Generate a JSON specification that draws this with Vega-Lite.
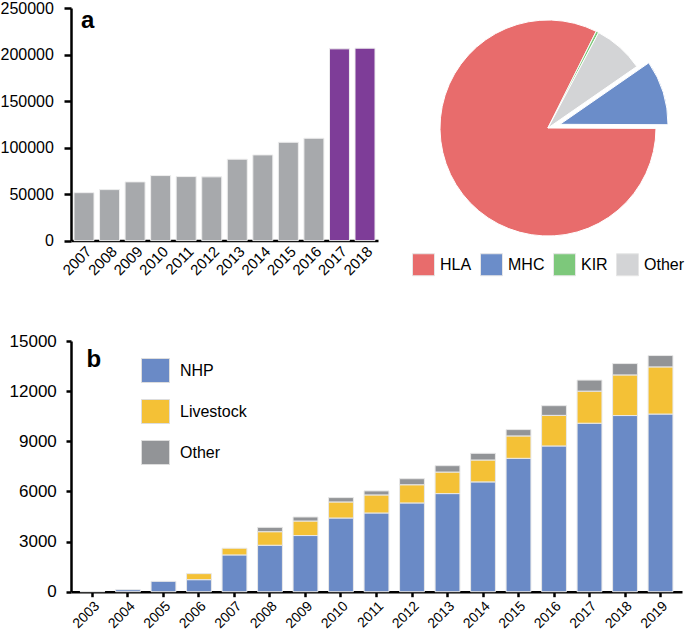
{
  "$schema": "https://vega.github.io/schema/vega-lite/v6.json",
  "padding": {"left": 0, "top": 0, "right": 0, "bottom": 0},
  "config": {
    "font": "Liberation Sans",
    "view": {"stroke": null},
    "axis": {"domainColor": "black", "tickColor": "black", "labelColor": "black", "domainWidth": 2.5, "tickWidth": 2.5, "grid": false, "title": null}
  },
  "resolve": {"scale": {"color": "independent"}, "legend": {"color": "independent"}},
  "align": "none",
  "spacing": 54,
  "vconcat": [
    {
      "spacing": 34,
      "resolve": {"scale": {"color": "independent"}, "legend": {"color": "independent"}},
      "hconcat": [
        {
          "width": 307,
          "height": 232.6,
          "data": {"values": [
            {"year": "2007", "count": 51500},
            {"year": "2008", "count": 54800},
            {"year": "2009", "count": 63100},
            {"year": "2010", "count": 69900},
            {"year": "2011", "count": 68800},
            {"year": "2012", "count": 68500},
            {"year": "2013", "count": 87500},
            {"year": "2014", "count": 92100},
            {"year": "2015", "count": 105700},
            {"year": "2016", "count": 110000},
            {"year": "2017", "count": 206100},
            {"year": "2018", "count": 206800}
          ]},
          "layer": [
            {
              "mark": {"type": "bar", "stroke": "#eeeeee", "strokeWidth": 1},
              "encoding": {
                "x": {"field": "year", "type": "ordinal", "scale": {"paddingInner": 0.217, "paddingOuter": 0.117},
                      "axis": {"title": null, "labelAngle": -45, "ticks": false, "labelFontSize": 15, "labelPadding": 3}},
                "y": {"field": "count", "type": "quantitative", "scale": {"domain": [0, 250000], "nice": false},
                      "axis": {"title": null, "values": [0, 50000, 100000, 150000, 200000, 250000], "format": "d", "labelFontSize": 16, "tickSize": 7, "labelPadding": 10.6}},
                "color": {"condition": {"test": "toNumber(datum.year) >= 2017", "value": "#7E3D98"}, "value": "#A7A9AC"}
              }
            },
            {
              "data": {"values": [{}]},
              "mark": {"type": "text", "text": "a", "fontSize": 24, "fontWeight": "bold", "align": "left", "baseline": "alphabetic", "dx": -3},
              "encoding": {"x": {"datum": "2007"}, "y": {"datum": 228000}}
            }
          ]
        },
        {
          "width": 272,
          "height": 240,
          "data": {"values": [
            {"cat": "HLA", "share": 82.3, "ord": 4},
            {"cat": "MHC", "share": 9.7, "ord": 3},
            {"cat": "KIR", "share": 0.4, "ord": 1},
            {"cat": "Other", "share": 7.6, "ord": 2}
          ]},
          "encoding": {
            "theta": {"field": "share", "type": "quantitative", "stack": true, "scale": {"range": [0.4625, 6.7457]}},
            "order": {"field": "ord", "type": "quantitative"},
            "color": {"field": "cat", "type": "nominal",
                      "scale": {"domain": ["HLA", "MHC", "KIR", "Other"], "range": ["#E86C6C", "#6B8DC9", "#7DC87B", "#D3D4D6"]},
                      "legend": {"title": null, "orient": "bottom", "direction": "horizontal", "offset": 5, "symbolType": "square", "symbolSize": 484, "symbolStrokeColor": "#e6e6e6", "symbolStrokeWidth": 1, "labelFontSize": 16, "labelOffset": 5, "columnPadding": 6, "labelColor": "black"}}
          },
          "layer": [
            {
              "mark": {"type": "arc", "outerRadius": 108, "stroke": "white", "strokeWidth": 1},
              "encoding": {"opacity": {"condition": {"test": "datum.cat === 'MHC'", "value": 0}, "value": 1}}
            },
            {
              "mark": {"type": "arc", "outerRadius": 108, "stroke": "white", "strokeWidth": 1, "xOffset": 12, "yOffset": -3.7},
              "encoding": {"opacity": {"condition": {"test": "datum.cat === 'MHC'", "value": 1}, "value": 0}}
            }
          ]
        }
      ]
    },
    {
      "width": 611,
      "height": 250.7,
      "data": {"values": [
        {"year": "2003", "type": "NHP", "value": 10},
        {"year": "2004", "type": "NHP", "value": 120},
        {"year": "2005", "type": "NHP", "value": 620},
        {"year": "2006", "type": "NHP", "value": 720},
        {"year": "2006", "type": "Livestock", "value": 360},
        {"year": "2007", "type": "NHP", "value": 2200},
        {"year": "2007", "type": "Livestock", "value": 400},
        {"year": "2008", "type": "NHP", "value": 2780},
        {"year": "2008", "type": "Livestock", "value": 810},
        {"year": "2008", "type": "Other", "value": 260},
        {"year": "2009", "type": "NHP", "value": 3360},
        {"year": "2009", "type": "Livestock", "value": 870},
        {"year": "2009", "type": "Other", "value": 240},
        {"year": "2010", "type": "NHP", "value": 4410},
        {"year": "2010", "type": "Livestock", "value": 960},
        {"year": "2010", "type": "Other", "value": 260},
        {"year": "2011", "type": "NHP", "value": 4710},
        {"year": "2011", "type": "Livestock", "value": 1080},
        {"year": "2011", "type": "Other", "value": 240},
        {"year": "2012", "type": "NHP", "value": 5310},
        {"year": "2012", "type": "Livestock", "value": 1090},
        {"year": "2012", "type": "Other", "value": 360},
        {"year": "2013", "type": "NHP", "value": 5870},
        {"year": "2013", "type": "Livestock", "value": 1290},
        {"year": "2013", "type": "Other", "value": 380},
        {"year": "2014", "type": "NHP", "value": 6570},
        {"year": "2014", "type": "Livestock", "value": 1310},
        {"year": "2014", "type": "Other", "value": 400},
        {"year": "2015", "type": "NHP", "value": 7980},
        {"year": "2015", "type": "Livestock", "value": 1340},
        {"year": "2015", "type": "Other", "value": 380},
        {"year": "2016", "type": "NHP", "value": 8720},
        {"year": "2016", "type": "Livestock", "value": 1830},
        {"year": "2016", "type": "Other", "value": 580},
        {"year": "2017", "type": "NHP", "value": 10080},
        {"year": "2017", "type": "Livestock", "value": 1920},
        {"year": "2017", "type": "Other", "value": 660},
        {"year": "2018", "type": "NHP", "value": 10540},
        {"year": "2018", "type": "Livestock", "value": 2430},
        {"year": "2018", "type": "Other", "value": 680},
        {"year": "2019", "type": "NHP", "value": 10630},
        {"year": "2019", "type": "Livestock", "value": 2820},
        {"year": "2019", "type": "Other", "value": 680}
      ]},
      "layer": [
        {
          "transform": [{"calculate": "indexof(['NHP','Livestock','Other'], datum.type)", "as": "stackOrder"}],
          "mark": {"type": "bar", "stroke": "#e8e8e8", "strokeWidth": 1},
          "encoding": {
            "x": {"field": "year", "type": "ordinal", "scale": {"paddingInner": 0.3, "paddingOuter": 0.255},
                  "axis": {"title": null, "labelAngle": -45, "labelFontSize": 14, "tickSize": 5, "labelPadding": 2}},
            "y": {"field": "value", "type": "quantitative", "stack": "zero", "scale": {"domain": [0, 15000], "nice": false},
                  "axis": {"title": null, "values": [0, 3000, 6000, 9000, 12000, 15000], "format": "d", "labelFontSize": 17, "tickSize": 5, "labelPadding": 9.7}},
            "color": {"field": "type", "type": "nominal",
                      "scale": {"domain": ["NHP", "Livestock", "Other"], "range": ["#6A8AC6", "#F4C136", "#929497"]},
                      "legend": {"title": null, "orient": "none", "legendX": 72, "legendY": 17, "symbolType": "M-1.1667,-1H1.1667V1H-1.1667Z", "symbolSize": 576, "symbolStrokeColor": "#dddddd", "symbolStrokeWidth": 1, "labelFontSize": 16, "labelOffset": 12, "rowPadding": 12, "labelColor": "black"}},
            "order": {"field": "stackOrder", "type": "quantitative"}
          }
        },
        {
          "data": {"values": [{}]},
          "mark": {"type": "text", "text": "b", "fontSize": 24, "fontWeight": "bold", "align": "left", "baseline": "alphabetic", "dx": -6},
          "encoding": {"x": {"datum": "2003"}, "y": {"datum": 13450}}
        }
      ]
    }
  ]
}
